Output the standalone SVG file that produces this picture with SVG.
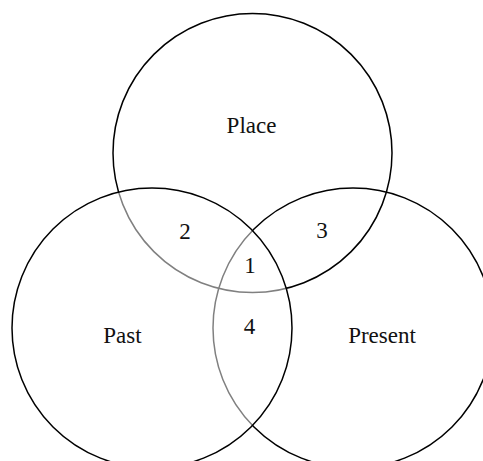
<svg xmlns="http://www.w3.org/2000/svg" width="483" height="461" viewBox="0 0 483 461">
<style>
.c{fill:none;stroke:#000;stroke-width:1.5}
.t{font-family:"Liberation Serif","Times New Roman",serif;font-size:23px;fill:#111;text-anchor:middle}
</style>
<rect width="483" height="461" fill="#fff"/>
<g id="place"><circle class="c" cx="252.5" cy="153" r="139.5"/><text class="t" x="251.5" y="133">Place</text></g>
<g id="present"><circle class="c" cx="353" cy="328" r="140"/><text class="t" x="382" y="343">Present</text></g>
<g id="past"><circle cx="152" cy="328" r="140" fill="#fff" fill-opacity="0.5" stroke="#000" stroke-width="1.5"/><text class="t" x="122.5" y="343">Past</text></g>
<g id="regions">
<text class="t" x="185" y="239">2</text>
<text class="t" x="322" y="238">3</text>
<text class="t" x="250" y="273">1</text>
<text class="t" x="249.5" y="334">4</text>
</g>
</svg>
